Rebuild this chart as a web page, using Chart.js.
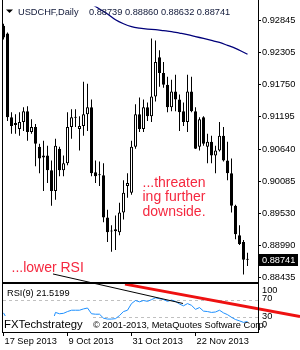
<!DOCTYPE html>
<html><head><meta charset="utf-8">
<script src="https://cdn.jsdelivr.net/npm/chart.js@4/dist/chart.umd.min.js"></script>
<style>html,body{margin:0;padding:0;background:#fff;overflow:hidden}canvas{display:block}</style>
</head><body>
<canvas id="c" width="300" height="350"></canvas>
<script>
const symbolTitle = 'USDCHF,Daily';
const dateTicks = [0, 16, 32, 48];
const dateLabels = ['17 Sep 2013', '9 Oct 2013', '31 Oct 2013', '22 Nov 2013'];
const opens = [0.92761,0.92625,0.91189,0.91054,0.90986,0.91104,0.91290,0.90935,0.91020,0.90682,
0.90496,0.90530,0.90276,0.89921,0.90648,0.90276,0.90395,0.91020,0.91189,0.90986,
0.91037,0.91240,0.91358,0.90242,0.90192,0.90192,0.89465,0.89228,0.89228,0.89212,
0.89550,0.90006,0.89888,0.90682,0.91240,0.90986,0.91358,0.91206,0.91544,0.92220,
0.91949,0.91747,0.91358,0.91628,0.91493,0.91290,0.91104,0.91628,0.91290,0.90682,
0.91189,0.90682,0.90766,0.90530,0.90614,0.90868,0.90445,0.90226,0.89668,0.89161,
0.89043,0.88739];
const highs = [0.92794,0.92642,0.91273,0.91240,0.91273,0.91358,0.91375,0.91155,0.91071,0.90733,
0.90783,0.90699,0.90445,0.90817,0.90682,0.90530,0.91273,0.91324,0.91324,0.91206,
0.91797,0.91763,0.91493,0.90445,0.90428,0.90395,0.89600,0.89330,0.89499,0.89719,
0.90107,0.90226,0.90783,0.91409,0.91527,0.91493,0.91442,0.92541,0.92507,0.92338,
0.92135,0.91882,0.91831,0.91916,0.91578,0.91442,0.91916,0.91882,0.91358,0.91189,
0.91206,0.90902,0.90868,0.90699,0.91104,0.91020,0.90766,0.90479,0.89685,0.89330,
0.89076,0.88860];
const lows = [0.92524,0.91121,0.90902,0.90902,0.90868,0.90952,0.90783,0.90902,0.90344,0.90226,
0.89921,0.90057,0.89668,0.89769,0.90175,0.90175,0.90361,0.90817,0.91020,0.90614,
0.90868,0.90952,0.90175,0.90057,0.90006,0.89381,0.89043,0.88874,0.88907,0.89161,
0.89431,0.89803,0.89854,0.90648,0.90935,0.90935,0.91121,0.91104,0.91459,0.91713,
0.91696,0.91273,0.91290,0.91290,0.90952,0.91037,0.90935,0.91273,0.90640,0.90614,
0.90699,0.90395,0.90395,0.90226,0.90598,0.90428,0.90107,0.89550,0.89093,0.88992,
0.88485,0.88632];
const closes = [0.92558,0.91189,0.91037,0.91087,0.91104,0.91290,0.90935,0.91020,0.90733,0.90479,
0.90530,0.90276,0.89921,0.90699,0.90276,0.90395,0.91020,0.91189,0.91180,0.91037,
0.91240,0.91358,0.90226,0.90175,0.90190,0.89465,0.89212,0.89225,0.89262,0.89550,
0.89888,0.90057,0.90682,0.91240,0.90986,0.91358,0.91206,0.91544,0.92135,0.91949,
0.91747,0.91358,0.91628,0.91493,0.91273,0.91104,0.91628,0.91290,0.90648,0.91155,
0.90733,0.90766,0.90530,0.90614,0.90868,0.90445,0.90226,0.89668,0.89178,0.89009,
0.88738,0.88741];
const maIndex = [22,24,26,28,30,32,34,36,38,40,42,44,46,48,50,52,54,56,58,60,61];
const maValues = [0.93135,0.93048,0.92963,0.92862,0.92794,0.92744,0.92718,0.92701,0.92693,0.92676,
0.92659,0.92634,0.92608,0.92575,0.92541,0.92507,0.92473,0.92423,0.92372,0.92304,0.92270];
const rsiValues = [41,25,23,24,25,29,25,26,22,19,
20,17,15,42,39,40,44,47,47,47,
50,52,39,38,38,29,27,27,28,35,
44,47,62,69,66,69,67,71,75,73,
71,67,70,67,61,57,62,58,49,53,
45,44,42,43,47,41,37,31,26,23,
19.5,21.5199];
const priceTicks = [0.92845,0.92305,0.91750,0.91195,0.90640,0.90085,0.89530,0.88990,0.88435];
const rsiTicks = [100, 70, 30, 0];
const rsiLevels = [70, 30];
const redTrendX = [30.375, 74.125];
const redTrendY = [106.0, 32.7];
const blackTrendX = [12.375, 44.875];
const blackTrendY = [128.9, 62.2];
const noteMain = ['...threaten', 'ing further', 'downside.'];
const noteRsi = '...lower RSI';
const brand = 'FXTechstrategy';
const copyright = '\u00A9 2001-2013, MetaQuotes Software Corp.';

function hasFont(f){
  const c=document.createElement('canvas').getContext('2d');
  const s='abcdefghijWM0123456789';
  c.font='40px monospace'; const w1=c.measureText(s).width;
  c.font="40px '"+f+"', monospace"; const w2=c.measureText(s).width;
  return Math.abs(w1-w2)>0.5;
}
const NARROW = hasFont('Liberation Sans Narrow');
const FAM = NARROW ? "'Liberation Sans Narrow'" : "'Liberation Sans'";
const K = NARROW ? 1 : 0.84;
const TXT = '#000000';

const idx = opens.map((_, i) => i);
const last = opens.length - 1;

const deco = {
  id: 'deco',
  afterDatasetsDraw(chart) {
    const ctx = chart.ctx, a = chart.chartArea, r = chart.scales.rsi;
    ctx.save();
    ctx.fillStyle = '#000';
    ctx.beginPath(); ctx.moveTo(6,9.5); ctx.lineTo(13,9.5); ctx.lineTo(9.5,13); ctx.closePath(); ctx.fill();
    ctx.fillStyle = '#101838';
    ctx.font = (11*K)+'px '+FAM; ctx.textBaseline = 'alphabetic'; ctx.textAlign = 'left';
    ctx.fillText(symbolTitle, 18, 15);
    ctx.fillText([opens[last], highs[last], lows[last], closes[last]].map(v => v.toFixed(5)).join(' '), 89, 15);
    ctx.fillStyle = '#f5283f';
    ctx.font = '14px "Liberation Sans"';
    noteMain.forEach((s, k) => ctx.fillText(s, 142.5, 186.5 + k * 14.5));
    ctx.fillText(noteRsi, 11.5, 271.5);
    ctx.fillStyle = TXT;
    ctx.font = (11*K)+'px '+FAM;
    ctx.fillText('RSI(9) ' + rsiValues[last].toFixed(4), 7, 296);
    ctx.fillStyle = '#fff';
    ctx.fillRect(a.left, 316, 88, r.bottom - 316);
    ctx.fillStyle = TXT;
    ctx.font = (13.5*K)+'px '+FAM;
    ctx.fillText(brand, 4, 327.5);
    ctx.restore();
  },
  afterDraw(chart) {
    const ctx = chart.ctx, a = chart.chartArea, y = chart.scales.y, r = chart.scales.rsi;
    ctx.save();
    const L = Math.floor(a.left) - 1, R = Math.round(a.right), S = Math.round(y.bottom), B = Math.round(r.bottom);
    ctx.fillStyle = '#000';
    ctx.fillRect(L, 0, 1, B + 1);
    ctx.fillRect(R, 0, 1, B + 1);
    ctx.fillRect(L, S, R - L + 1, 2);
    ctx.fillRect(L, B, R - L + 1, 1);
    ctx.font = (11*K)+'px '+FAM; ctx.textBaseline = 'middle'; ctx.textAlign = 'left';
    ctx.fillStyle = TXT;
    rsiTicks.forEach(v => {
      let py = r.getPixelForValue(v) - 1.5;
      py = Math.min(Math.max(py, r.top + 9), r.bottom - 8);
      ctx.fillText(String(v), R + 4, py);
    });
    ctx.textBaseline = 'alphabetic';
    ctx.font = (11*K)+'px '+FAM;
    ctx.fillText(copyright, 93, 328);
    const py = Math.round(y.getPixelForValue(closes[last]));
    ctx.fillStyle = '#000';
    ctx.fillRect(R + 1, py - 6, 39, 12);
    ctx.fillStyle = '#fff';
    ctx.textBaseline = 'middle';
    ctx.fillText(closes[last].toFixed(5), R + 4, py);
    ctx.restore();
  }
};

const axFont = { family: FAM, size: 11 * K };

new Chart(document.getElementById('c'), {
  type: 'line',
  data: {
    datasets: [
      { type: 'bar', label: 'wicks', yAxisID: 'y', order: 3, grouped: false,
        data: idx.map(i => ({ x: i, y: [lows[i], highs[i]] })),
        barThickness: 1, backgroundColor: '#000', borderWidth: 0, inflateAmount: 0 },
      { type: 'bar', label: 'bodies', yAxisID: 'y', order: 2, grouped: false,
        data: idx.map(i => ({ x: i, y: [opens[i], closes[i]] })),
        barThickness: 3, minBarLength: 1, inflateAmount: 0,
        backgroundColor: idx.map(i => closes[i] > opens[i] ? '#fff' : '#000'),
        borderColor: '#000', borderWidth: 1, borderSkipped: false },
      { type: 'line', label: 'MA', yAxisID: 'y', order: 1,
        data: maIndex.map((x, k) => ({ x, y: maValues[k] })),
        borderColor: '#00007a', borderWidth: 1.3, pointRadius: 0, tension: 0.3 },
      { type: 'line', label: 'RSI', yAxisID: 'rsi', order: 1,
        data: idx.map(i => ({ x: i, y: rsiValues[i] })),
        borderColor: '#1e90ff', borderWidth: 1, pointRadius: 0, tension: 0 },
      { type: 'line', label: 'trend1', yAxisID: 'rsi', order: 0, clip: false,
        data: blackTrendX.map((x, k) => ({ x, y: blackTrendY[k] })),
        borderColor: '#000', borderWidth: 1, pointRadius: 0 },
      { type: 'line', label: 'trend2', yAxisID: 'rsi', order: 0, clip: false,
        data: redTrendX.map((x, k) => ({ x, y: redTrendY[k] })),
        borderColor: '#ee1111', borderWidth: 3, pointRadius: 0 }
    ]
  },
  options: {
    responsive: false, animation: false, devicePixelRatio: 1, events: [],
    layout: { padding: { left: 3, top: 1, right: 0, bottom: 0 } },
    plugins: { legend: { display: false }, tooltip: { enabled: false } },
    scales: {
      x: {
        type: 'linear', min: -0.125, max: 63.625, offset: false,
        afterBuildTicks: s => { s.ticks = dateTicks.map(v => ({ value: v })); },
        afterFit: s => { s.height = 18; },
        grid: { drawOnChartArea: false, drawTicks: true, tickLength: 4, color: '#000', offset: false },
        border: { display: false },
        ticks: { autoSkip: false, maxRotation: 0, minRotation: 0, align: 'start', labelOffset: 1, padding: 0,
          color: TXT, font: axFont, callback: v => { const k = dateTicks.indexOf(v); return k >= 0 ? dateLabels[k] : ''; } }
      },
      y: {
        type: 'linear', position: 'right', stack: 'panes', stackWeight: 280,
        min: 0.883588, max: 0.930900,
        afterBuildTicks: s => { s.ticks = priceTicks.map(v => ({ value: v })); },
        afterFit: s => { s.width = 42; },
        grid: { drawOnChartArea: false, drawTicks: true, tickLength: 3, color: '#000' },
        border: { display: false },
        ticks: { padding: 1, color: TXT, font: axFont, callback: v => Number(v).toFixed(5) }
      },
      rsi: {
        type: 'linear', position: 'right', stack: 'panes', stackWeight: 51,
        min: -2.2, max: 111.1,
        afterBuildTicks: s => { s.ticks = rsiTicks.map(v => ({ value: v })); },
        afterFit: s => { s.width = 42; },
        grid: { drawOnChartArea: true, drawTicks: false,
          color: c => (c.tick && rsiLevels.includes(c.tick.value)) ? '#c0c0c0' : 'rgba(0,0,0,0)' },
        border: { display: false, dash: [3, 3] },
        ticks: { display: false }
      }
    }
  },
  plugins: [deco]
});
</script>
</body></html>
